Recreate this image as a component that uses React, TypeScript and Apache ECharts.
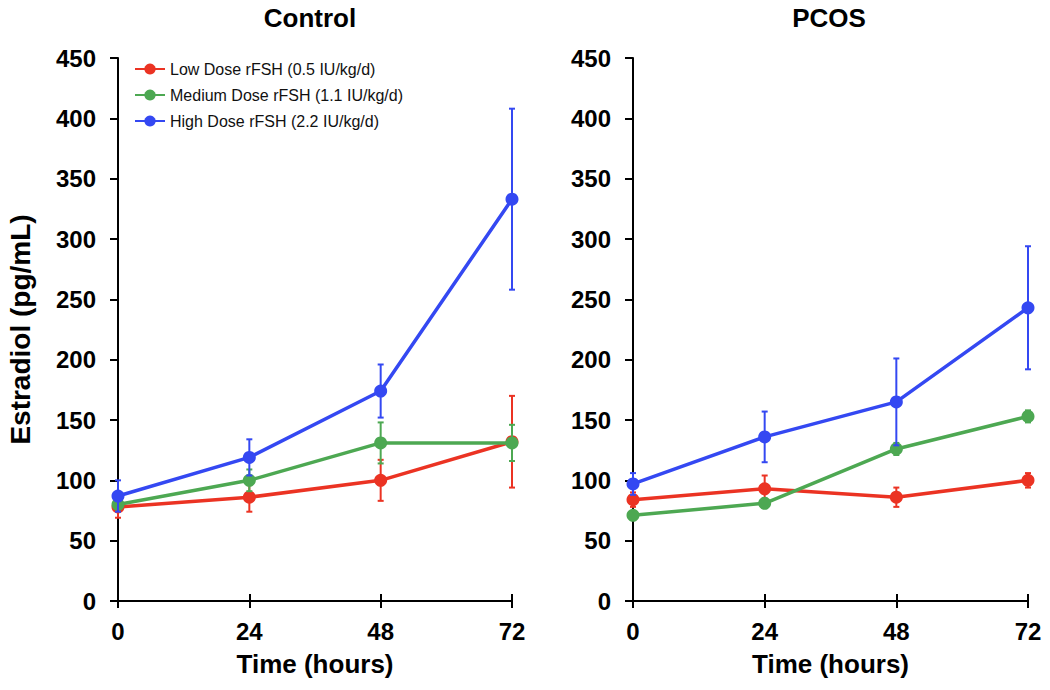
import React, { useEffect, useRef } from "react";
import * as echarts from "echarts";

const hours = [0, 24, 48, 72];
const yTicks = [0, 50, 100, 150, 200, 250, 300, 350, 400, 450];
const seriesNames = [
  "Low Dose rFSH (0.5 IU/kg/d)",
  "Medium Dose rFSH (1.1 IU/kg/d)",
  "High Dose rFSH (2.2 IU/kg/d)",
];
const panelTitles = ["Control", "PCOS"];

const controlLow = [78, 86, 100, 132];
const controlLowErr = [9, 12, 17, 38];
const controlMed = [80, 100, 131, 131];
const controlMedErr = [4, 9, 17, 15];
const controlHigh = [87, 119, 174, 333];
const controlHighErr = [13, 15, 22, 75];

const pcosLow = [84, 93, 86, 100];
const pcosLowErr = [6, 11, 8, 6];
const pcosMed = [71, 81, 126, 153];
const pcosMedErr = [3, 4, 5, 5];
const pcosHigh = [97, 136, 165, 243];
const pcosHighErr = [9, 21, 36, 51];

const colors = ["#EB3323", "#4DA852", "#3448F2"];
const FONT = "'Liberation Sans', Arial, Helvetica, sans-serif";

export default function App() {
  const ref = useRef<HTMLDivElement>(null);
  useEffect(() => {
    document.body.style.margin = "0";
    const chart = echarts.init(ref.current!, null, { renderer: "svg" });

    const grids = [
      { left: 118, top: 58, width: 394, height: 543 },
      { left: 633, top: 58, width: 395, height: 543 },
    ];

    const xAxes: any[] = [];
    const yAxes: any[] = [];
    [0, 1].forEach((g) => {
      xAxes.push({
        type: "value",
        gridIndex: g,
        min: 0,
        max: 72,
        interval: 24,
        name: "Time (hours)",
        nameLocation: "middle",
        nameGap: 50,
        nameTextStyle: { fontFamily: FONT, fontWeight: "bold", fontSize: 26, color: "#000" },
        axisLine: { show: true, onZero: false, lineStyle: { color: "#000", width: 2 } },
        axisTick: { show: true, inside: false, length: 7, lineStyle: { color: "#000", width: 2 } },
        axisLabel: { fontFamily: FONT, fontWeight: "bold", fontSize: 24, color: "#000", margin: 18 },
        splitLine: { show: false },
      });
      xAxes.push({
        type: "value",
        gridIndex: g,
        position: "bottom",
        min: 0,
        max: 72,
        interval: 24,
        axisLine: { show: false },
        axisTick: { show: true, inside: true, length: 7, lineStyle: { color: "#000", width: 2 } },
        axisLabel: { show: false },
        splitLine: { show: false },
      });
      yAxes.push({
        type: "value",
        gridIndex: g,
        min: 0,
        max: 450,
        interval: 50,
        name: g === 0 ? "Estradiol (pg/mL)" : "",
        nameLocation: "middle",
        nameGap: 84,
        nameTextStyle: { fontFamily: FONT, fontWeight: "bold", fontSize: 28, color: "#000" },
        axisLine: { show: true, onZero: false, lineStyle: { color: "#000", width: 2 } },
        axisTick: { show: true, inside: false, length: 8, lineStyle: { color: "#000", width: 2 } },
        axisLabel: {
          fontFamily: FONT,
          fontWeight: "bold",
          fontSize: 24,
          color: "#000",
          margin: 22,
          formatter: (v: number) => (yTicks.includes(v) ? String(v) : ""),
        },
        splitLine: { show: false },
      });
    });

    const panels = [
      [
        [controlLow, controlLowErr],
        [controlMed, controlMedErr],
        [controlHigh, controlHighErr],
      ],
      [
        [pcosLow, pcosLowErr],
        [pcosMed, pcosMedErr],
        [pcosHigh, pcosHighErr],
      ],
    ];

    const series: any[] = [];
    panels.forEach((panel, g) => {
      panel.forEach(([vals, errs], i) => {
        series.push({
          type: "custom",
          xAxisIndex: g * 2,
          yAxisIndex: g,
          z: 2 + i * 2,
          silent: true,
          encode: { x: 0, y: [1, 2] },
          data: hours.map((h, k) => [h, vals[k] - errs[k], vals[k] + errs[k]]),
          renderItem: (params: any, api: any) => {
            const x = api.value(0);
            const lo = api.coord([x, api.value(1)]);
            const hi = api.coord([x, api.value(2)]);
            const cw = 3;
            const st = { stroke: colors[i], lineWidth: 2 };
            return {
              type: "group",
              children: [
                { type: "line", shape: { x1: lo[0], y1: lo[1], x2: hi[0], y2: hi[1] }, style: st },
                { type: "line", shape: { x1: lo[0] - cw, y1: lo[1], x2: lo[0] + cw, y2: lo[1] }, style: st },
                { type: "line", shape: { x1: hi[0] - cw, y1: hi[1], x2: hi[0] + cw, y2: hi[1] }, style: st },
              ],
            };
          },
        });
        series.push({
          type: "line",
          name: seriesNames[i],
          xAxisIndex: g * 2,
          yAxisIndex: g,
          z: 3 + i * 2,
          data: hours.map((h, k) => [h, vals[k]]),
          symbol: "circle",
          symbolSize: 13,
          showSymbol: true,
          lineStyle: { color: colors[i], width: 3.5 },
          itemStyle: { color: colors[i] },
          color: colors[i],
        });
      });
    });

    chart.setOption({
      animation: false,
      backgroundColor: "#fff",
      grid: grids,
      xAxis: xAxes,
      yAxis: yAxes,
      legend: {
        data: seriesNames,
        orient: "vertical",
        left: 134,
        top: 61,
        padding: 0,
        itemWidth: 30,
        itemHeight: 14,
        itemGap: 10,
        textStyle: { fontFamily: FONT, fontSize: 16, color: "#111", lineHeight: 16 },
      },
      graphic: panelTitles.map((t, g) => ({
        type: "text",
        x: g === 0 ? 310 : 829,
        y: 18,
        style: {
          text: t,
          font: `bold 26px ${FONT}`,
          fill: "#000",
          align: "center",
          verticalAlign: "middle",
          textAlign: "center",
          textVerticalAlign: "middle",
        },
      })),
      series,
    });
    return () => chart.dispose();
  }, []);
  return <div ref={ref} style={{ width: 1050, height: 690 }} />;
}
